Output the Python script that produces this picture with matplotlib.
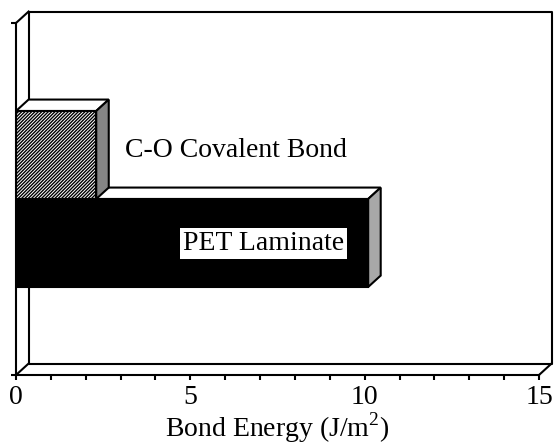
import matplotlib
matplotlib.use("Agg")
import matplotlib.pyplot as plt
from matplotlib.patches import Polygon
from matplotlib.ticker import MultipleLocator

plt.rcParams["font.family"] = ["Liberation Serif", "DejaVu Serif"]
plt.rcParams["mathtext.fontset"] = "custom"
plt.rcParams["mathtext.rm"] = "Liberation Serif"
plt.rcParams["hatch.linewidth"] = 1.0

# data
bar_labels = ["PET Laminate", "C-O Covalent Bond"]
bond_energy = [10.1, 2.3]
bar_pos = [1.5, 2.5]
xticks = [0, 5, 10, 15]

# pseudo-3d depth, in data units
DX = 0.36
DY = 0.13
BAR_H = 1.0
XMAX, YMAX = 15, 4

fig = plt.figure(figsize=(5.54, 4.44), dpi=100)
ax = fig.add_axes([0.0289, 0.1554, 0.944, 0.7928])
ax.set_xlim(0, XMAX)
ax.set_ylim(0, YMAX)

# back wall + depth edges
frame = dict(color="black", lw=1.5, clip_on=False, zorder=1, solid_capstyle="projecting")
ax.plot([DX, XMAX + DX, XMAX + DX, DX, DX],
        [YMAX + DY, YMAX + DY, DY, DY, YMAX + DY], **frame)
ax.plot([0, DX], [YMAX, YMAX + DY], **frame)
ax.plot([0, DX], [0, DY], **frame)
ax.plot([XMAX, XMAX + DX], [0, DY], **frame)

styles = [
    dict(face="black", hatch=None, side="#a8a8a8"),
    dict(face="white", hatch="//////////", side="#858585"),
]

for i, (val, pos, st) in enumerate(zip(bond_energy, bar_pos, styles)):
    z = 3 + 2 * i
    bot, top = pos - BAR_H / 2, pos + BAR_H / 2
    ax.barh(pos, val, height=BAR_H, color=st["face"], edgecolor="black",
            hatch=st["hatch"], lw=1.5, zorder=z + 1)
    top_face = Polygon([(0, top), (val, top), (val + DX, top + DY), (DX, top + DY)],
                       closed=True, fc="white", ec="black", lw=1.5, zorder=z,
                       clip_on=False)
    side_face = Polygon([(val, bot), (val, top), (val + DX, top + DY), (val + DX, bot + DY)],
                        closed=True, fc=st["side"], ec="black", lw=1.5, zorder=z,
                        clip_on=False)
    ax.add_patch(top_face)
    ax.add_patch(side_face)

ax.text(3.13, 2.48, bar_labels[1], fontsize=20, ha="left", va="baseline", zorder=10)
ax.text(4.79, 1.42, bar_labels[0], fontsize=20, ha="left", va="baseline", zorder=10,
        bbox=dict(fc="white", ec="none", pad=2))

for side in ["top", "right"]:
    ax.spines[side].set_visible(False)
for side in ["left", "bottom"]:
    ax.spines[side].set_linewidth(1.5)
    ax.spines[side].set_zorder(9)

ax.set_xticks(xticks)
ax.xaxis.set_minor_locator(MultipleLocator(1))
ax.set_yticks([0, YMAX])
ax.set_yticklabels([])
ax.tick_params(axis="both", which="both", direction="out", length=3.5, width=1.5)
ax.tick_params(axis="x", labelsize=20, pad=4)
ax.set_xlabel(r"Bond Energy (J/m$^{\mathrm{2}}$)", fontsize=20, labelpad=0)

fig.savefig("out.png", dpi=100)
